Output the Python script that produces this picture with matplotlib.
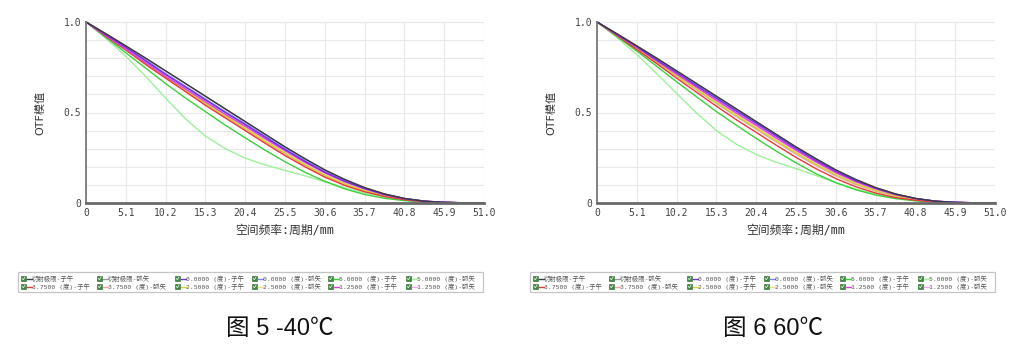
import numpy as np
import matplotlib.pyplot as plt
from matplotlib.patches import Rectangle

plt.rcParams['font.family'] = ['DejaVu Sans', 'Noto Sans CJK SC']

W, H = 1029, 355

# spatial frequency (cycles/mm)
freq = [0, 2.55, 5.1, 7.65, 10.2, 12.75, 15.3, 17.85, 20.4, 22.95, 25.5,
        28.05, 30.6, 33.15, 35.7, 38.25, 40.8, 43.35, 45.9, 48.45, 51.0]
xticks = [0, 5.1, 10.2, 15.3, 20.4, 25.5, 30.6, 35.7, 40.8, 45.9, 51.0]
xtick_labels = ['0', '5.1', '10.2', '15.3', '20.4', '25.5', '30.6', '35.7', '40.8', '45.9', '51.0']
yticks = [0, 0.1, 0.2, 0.3, 0.4, 0.5, 0.6, 0.7, 0.8, 0.9, 1.0]
ytick_labels = ['0', '', '', '', '', '0.5', '', '', '', '', '1.0']

labels = ['衍射极限-子午', '衍射极限-弧矢', '0.0000 (度)-子午', '0.0000 (度)-弧矢',
          '5.0000 (度)-子午', '5.0000 (度)-弧矢', '3.7500 (度)-子午', '3.7500 (度)-弧矢',
          '2.5000 (度)-子午', '2.5000 (度)-弧矢', '1.2500 (度)-子午', '1.2500 (度)-弧矢']
colors = ['#3a3a3a', '#9a9a9a', '#7a2ee0', '#8080ff',
          '#3ccf3c', '#9cf09c', '#e83a3a', '#f5a0a0',
          '#cfd23a', '#f0d890', '#e040e0', '#f4a8f4']

captions = ['图 5 -40℃', '图 6 60℃']

# -40 C
m40_diff_t = [1.0, 0.935, 0.868, 0.80, 0.73, 0.66, 0.59, 0.52, 0.45, 0.38, 0.31,
              0.245, 0.183, 0.13, 0.085, 0.05, 0.025, 0.01, 0.003, 0.0005, 0.0]
m40_diff_s = [1.0, 0.935, 0.868, 0.80, 0.73, 0.66, 0.59, 0.519, 0.449, 0.379, 0.31,
              0.244, 0.182, 0.13, 0.085, 0.05, 0.025, 0.01, 0.003, 0.0005, 0.0]
m40_f0_t = [1.0, 0.93, 0.86, 0.785, 0.71, 0.64, 0.57, 0.50, 0.433, 0.364, 0.295,
            0.23, 0.17, 0.12, 0.08, 0.047, 0.024, 0.01, 0.004, 0.001, 0.0]
m40_f0_s = [1.0, 0.93, 0.86, 0.79, 0.715, 0.645, 0.575, 0.505, 0.438, 0.369, 0.30,
            0.235, 0.175, 0.123, 0.082, 0.048, 0.025, 0.01, 0.004, 0.001, 0.0]
m40_f5_t = [1.0, 0.915, 0.83, 0.745, 0.66, 0.58, 0.505, 0.43, 0.36, 0.292, 0.228,
            0.17, 0.12, 0.078, 0.047, 0.026, 0.013, 0.005, 0.002, 0.0005, 0.0]
m40_f5_s = [1.0, 0.91, 0.81, 0.70, 0.58, 0.465, 0.37, 0.30, 0.248, 0.21, 0.18,
            0.15, 0.117, 0.085, 0.056, 0.034, 0.018, 0.008, 0.003, 0.001, 0.0]
m40_f375_t = [1.0, 0.92, 0.845, 0.765, 0.69, 0.615, 0.54, 0.47, 0.40, 0.33, 0.262,
              0.20, 0.143, 0.097, 0.062, 0.036, 0.018, 0.007, 0.003, 0.001, 0.0]
m40_f375_s = [1.0, 0.925, 0.848, 0.77, 0.693, 0.62, 0.548, 0.477, 0.408, 0.338, 0.27,
              0.207, 0.15, 0.103, 0.066, 0.039, 0.02, 0.008, 0.003, 0.001, 0.0]
m40_f25_t = [1.0, 0.925, 0.85, 0.77, 0.695, 0.62, 0.55, 0.48, 0.41, 0.34, 0.275,
             0.21, 0.153, 0.105, 0.068, 0.04, 0.02, 0.008, 0.003, 0.001, 0.0]
m40_f25_s = [1.0, 0.925, 0.85, 0.772, 0.697, 0.623, 0.553, 0.483, 0.415, 0.345, 0.278,
             0.215, 0.157, 0.108, 0.07, 0.041, 0.021, 0.008, 0.003, 0.001, 0.0]
m40_f125_t = [1.0, 0.925, 0.85, 0.775, 0.70, 0.63, 0.56, 0.49, 0.424, 0.356, 0.29,
              0.225, 0.167, 0.118, 0.078, 0.046, 0.024, 0.01, 0.004, 0.001, 0.0]
m40_f125_s = [1.0, 0.925, 0.85, 0.775, 0.70, 0.625, 0.555, 0.485, 0.418, 0.35, 0.283,
              0.22, 0.16, 0.112, 0.074, 0.044, 0.022, 0.009, 0.003, 0.001, 0.0]

# 60 C
p60_diff_t = [1.0, 0.935, 0.868, 0.80, 0.73, 0.66, 0.59, 0.52, 0.45, 0.38, 0.31,
              0.245, 0.183, 0.13, 0.085, 0.05, 0.025, 0.01, 0.003, 0.0005, 0.0]
p60_diff_s = [1.0, 0.935, 0.868, 0.80, 0.73, 0.66, 0.59, 0.519, 0.449, 0.379, 0.31,
              0.244, 0.182, 0.13, 0.085, 0.05, 0.025, 0.01, 0.003, 0.0005, 0.0]
p60_f0_t = [1.0, 0.932, 0.863, 0.79, 0.72, 0.648, 0.578, 0.508, 0.44, 0.37, 0.30,
            0.235, 0.175, 0.123, 0.082, 0.048, 0.025, 0.01, 0.004, 0.001, 0.0]
p60_f0_s = [1.0, 0.933, 0.865, 0.793, 0.723, 0.652, 0.582, 0.512, 0.443, 0.373, 0.304,
            0.238, 0.177, 0.125, 0.083, 0.049, 0.025, 0.01, 0.004, 0.001, 0.0]
p60_f5_t = [1.0, 0.92, 0.84, 0.755, 0.67, 0.587, 0.505, 0.43, 0.357, 0.287, 0.222,
            0.162, 0.112, 0.073, 0.044, 0.024, 0.012, 0.005, 0.002, 0.0005, 0.0]
p60_f5_s = [1.0, 0.915, 0.82, 0.715, 0.605, 0.497, 0.40, 0.325, 0.268, 0.225, 0.19,
            0.152, 0.112, 0.078, 0.05, 0.03, 0.015, 0.006, 0.002, 0.0005, 0.0]
p60_f375_t = [1.0, 0.925, 0.848, 0.77, 0.69, 0.612, 0.535, 0.46, 0.39, 0.32, 0.252,
              0.19, 0.135, 0.09, 0.055, 0.03, 0.015, 0.006, 0.002, 0.0005, 0.0]
p60_f375_s = [1.0, 0.927, 0.853, 0.777, 0.70, 0.625, 0.55, 0.478, 0.408, 0.338, 0.27,
              0.207, 0.15, 0.102, 0.065, 0.038, 0.019, 0.008, 0.003, 0.001, 0.0]
p60_f25_t = [1.0, 0.927, 0.853, 0.777, 0.702, 0.627, 0.553, 0.482, 0.413, 0.343, 0.276,
             0.213, 0.155, 0.106, 0.068, 0.04, 0.02, 0.008, 0.003, 0.001, 0.0]
p60_f25_s = [1.0, 0.928, 0.855, 0.78, 0.705, 0.63, 0.558, 0.487, 0.418, 0.348, 0.28,
             0.216, 0.158, 0.109, 0.07, 0.041, 0.021, 0.008, 0.003, 0.001, 0.0]
p60_f125_t = [1.0, 0.93, 0.86, 0.785, 0.712, 0.64, 0.568, 0.498, 0.43, 0.36, 0.292,
              0.228, 0.168, 0.118, 0.078, 0.046, 0.024, 0.01, 0.004, 0.001, 0.0]
p60_f125_s = [1.0, 0.93, 0.858, 0.783, 0.708, 0.635, 0.563, 0.493, 0.425, 0.355, 0.287,
              0.223, 0.164, 0.115, 0.076, 0.045, 0.023, 0.009, 0.003, 0.001, 0.0]

m40_series = [m40_diff_t, m40_diff_s, m40_f0_t, m40_f0_s, m40_f5_t, m40_f5_s,
              m40_f375_t, m40_f375_s, m40_f25_t, m40_f25_s, m40_f125_t, m40_f125_s]
p60_series = [p60_diff_t, p60_diff_s, p60_f0_t, p60_f0_s, p60_f5_t, p60_f5_s,
              p60_f375_t, p60_f375_s, p60_f25_t, p60_f25_s, p60_f125_t, p60_f125_s]

# draw order: light ones first, dark/strong on top
order = [5, 11, 9, 7, 1, 4, 8, 6, 3, 10, 2, 0]

fig = plt.figure(figsize=(W / 100, H / 100), dpi=100)
fig.patch.set_facecolor('white')

panel_left = [86, 597]
mono = ['DejaVu Sans Mono', 'Noto Sans CJK SC']


def draw_panel(px, series):
    ax = fig.add_axes([px / W, 1 - 203 / H, 398 / W, 181 / H])
    for i in order:
        ax.plot(freq, series[i], color=colors[i], lw=1.0, clip_on=False,
                solid_joinstyle='round')
    ax.set_xlim(0, 51)
    ax.set_ylim(0, 1)
    ax.set_xticks(xticks)
    ax.set_xticklabels(xtick_labels, family=mono, fontsize=7, color='#444444')
    ax.set_yticks(yticks)
    ax.set_yticklabels(ytick_labels, family=mono, fontsize=7, color='#444444')
    ax.tick_params(length=0, pad=3.5)
    ax.grid(True, color='#e8e8e8', lw=0.8)
    ax.set_axisbelow(True)
    for s in ['top', 'right']:
        ax.spines[s].set_visible(False)
    ax.spines['left'].set_color('#7a7a7a')
    ax.spines['left'].set_linewidth(1.3)
    ax.spines['bottom'].set_color('#6a6a6a')
    ax.spines['bottom'].set_linewidth(2.0)
    fig.text((px - 46) / W, 1 - 113 / H, 'OTF模值', rotation=90, ha='center',
             va='center', fontsize=8, color='#333333')
    fig.text((px + 199) / W, 1 - 230 / H, '空间频率:周期/mm', ha='center',
             va='center', fontsize=8.5, color='#333333', family=mono)


draw_panel(panel_left[0], m40_series)
draw_panel(panel_left[1], p60_series)

# legends and captions drawn in pixel space
ov = fig.add_axes([0, 0, 1, 1])
ov.set_xlim(0, W)
ov.set_ylim(H, 0)
ov.axis('off')

col_off = [3, 79, 157, 234, 310, 388]
row_y = [278.5, 286.5]
for bx, cap_x, cap in zip([18, 530], [280, 773], captions):
    ov.add_patch(Rectangle((bx, 272), 465, 20, fill=False, ec='#c4c4c4', lw=0.9))
    for k, lab in enumerate(labels):
        r, c = divmod(k, 6)
        x0 = bx + col_off[c]
        y0 = row_y[r]
        ov.add_patch(Rectangle((x0, y0 - 2.6), 5.2, 5.2, fc='#3f8a3f', ec='#2a5e2a', lw=0.4))
        ov.plot([x0 + 1.3, x0 + 2.4, x0 + 4.0], [y0, y0 + 1.2, y0 - 1.4], color='white', lw=0.5)
        ov.plot([x0 + 6.0, x0 + 10.5], [y0, y0], color=colors[k], lw=1.0)
        ov.text(x0 + 11, y0, lab, fontsize=4.6, family=mono, color='#555555',
                ha='left', va='center')
    ov.text(cap_x, 329, cap, fontsize=17, family=['Liberation Sans', 'Noto Sans CJK SC'],
            color='#111111', ha='center', va='center')

fig.savefig('out.png', dpi=100, facecolor='white')
